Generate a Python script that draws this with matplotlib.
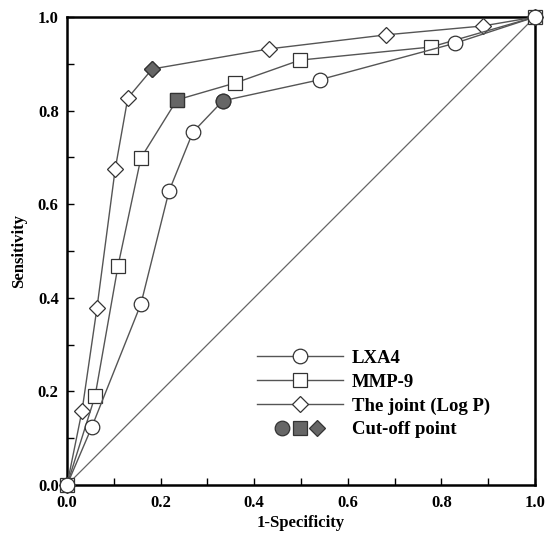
import matplotlib
matplotlib.use("Agg")
import matplotlib.pyplot as plt
from matplotlib.lines import Line2D
from matplotlib.legend_handler import HandlerTuple
from matplotlib.ticker import MultipleLocator, FormatStrFormatter

plt.rcParams['font.family'] = ['Liberation Serif', 'DejaVu Serif']
plt.rcParams['font.weight'] = 'bold'

lxa4_x = [0.0, 0.053, 0.158, 0.218, 0.269, 0.333, 0.540, 0.829, 1.0]
lxa4_y = [0.0, 0.124, 0.387, 0.628, 0.754, 0.821, 0.866, 0.944, 1.0]
lxa4_cut = 5

mmp9_x = [0.0, 0.060, 0.109, 0.158, 0.235, 0.359, 0.498, 0.778, 1.0]
mmp9_y = [0.0, 0.190, 0.468, 0.699, 0.823, 0.859, 0.908, 0.936, 1.0]
mmp9_cut = 4

joint_x = [0.0, 0.032, 0.064, 0.103, 0.130, 0.182, 0.432, 0.682, 0.889, 1.0]
joint_y = [0.0, 0.158, 0.378, 0.675, 0.827, 0.889, 0.932, 0.962, 0.981, 1.0]
joint_cut = 5

labels = ["LXA4", "MMP-9", "The joint (Log P)", "Cut-off point"]

line_c = '#555555'
fill_c = '#666666'
edge_c = '#333333'

fig = plt.figure(figsize=(5.46, 5.33), dpi=100)
ax = fig.add_axes([0.1227, 0.090, 0.857, 0.878])

ax.plot([0, 1], [0, 1], color='#666666', lw=0.9, zorder=1)

series = [(lxa4_x, lxa4_y, lxa4_cut, 'o', 10.5, 7),
          (mmp9_x, mmp9_y, mmp9_cut, 's', 9.5, 5),
          (joint_x, joint_y, joint_cut, 'D', 8.5, 3)]
handles = []
for xs, ys, cut, m, ms, z in series:
    h, = ax.plot(xs, ys, color=line_c, lw=1.0, marker=m, ms=ms,
                 mfc='white', mec=edge_c, mew=0.9, zorder=z, clip_on=False)
    ax.plot([xs[cut]], [ys[cut]], ls='none', marker=m, ms=ms,
            mfc=fill_c, mec=edge_c, mew=0.9, zorder=z + 1, clip_on=False)
    handles.append(h)

cut_handles = tuple(Line2D([], [], ls='none', marker=m, ms=ms, mfc=fill_c,
                           mec=edge_c, mew=0.9) for _, _, _, m, ms, _ in series)

ax.set_xlim(0, 1)
ax.set_ylim(0, 1)
ax.xaxis.set_major_locator(MultipleLocator(0.2))
ax.xaxis.set_minor_locator(MultipleLocator(0.1))
ax.yaxis.set_major_locator(MultipleLocator(0.2))
ax.yaxis.set_minor_locator(MultipleLocator(0.1))
ax.xaxis.set_major_formatter(FormatStrFormatter('%.1f'))
ax.yaxis.set_major_formatter(FormatStrFormatter('%.1f'))
ax.tick_params(which='both', direction='in', width=1.0, length=5, labelsize=12)
ax.tick_params(axis='x', which='both', pad=7)
ax.tick_params(axis='y', which='both', pad=6)
for lab in ax.get_xticklabels() + ax.get_yticklabels():
    lab.set_fontweight('bold')
for s in ax.spines.values():
    s.set_linewidth(1.8)

ax.set_xlabel("1-Specificity", fontsize=12, fontweight='bold', labelpad=3)
ax.set_ylabel("Sensitivity", fontsize=12, fontweight='bold', labelpad=8)

fs = 13.5
leg = ax.legend(handles + [cut_handles], labels,
                handler_map={tuple: HandlerTuple(ndivide=None, pad=-1.79)},
                loc='lower left', bbox_to_anchor=(0.405, 0.10),
                frameon=False, fontsize=fs, handlelength=4.6,
                handletextpad=0.5, labelspacing=0.35, borderaxespad=0,
                borderpad=0)
for t in leg.get_texts():
    t.set_fontweight('bold')

fig.savefig("out.png", dpi=100)
